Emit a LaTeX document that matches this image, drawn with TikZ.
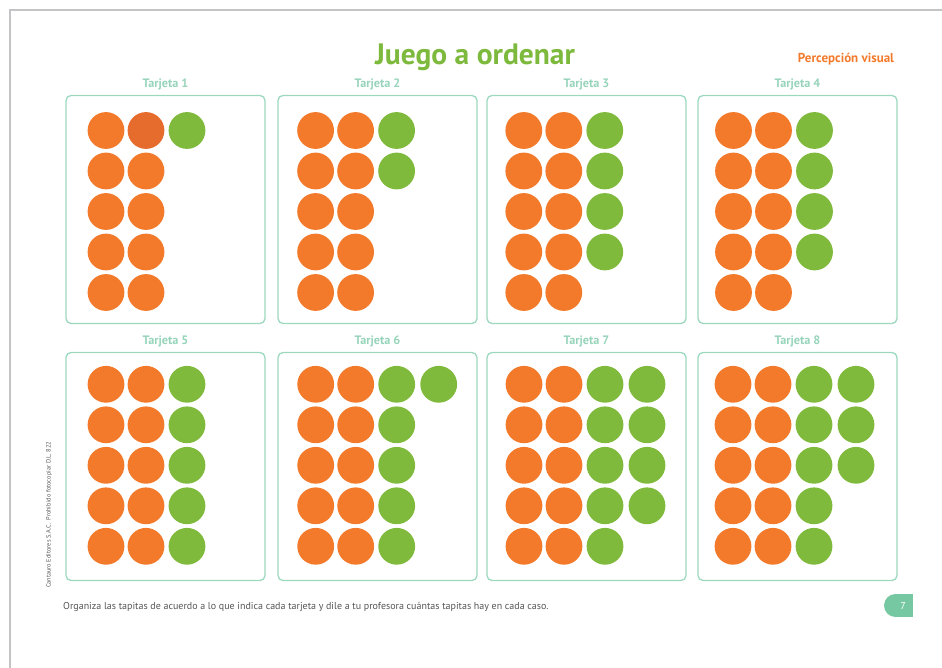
\documentclass[tikz,border=0pt]{standalone}
\usepackage{fontspec}
\setmainfont{PT Sans}
\definecolor{orangec}{RGB}{243,122,43}
\definecolor{darkorangec}{RGB}{230,108,45}
\definecolor{greenc}{RGB}{128,186,60}
\definecolor{titlec}{RGB}{124,185,60}
\definecolor{cardc}{RGB}{156,216,190}
\definecolor{labelc}{RGB}{150,212,186}
\definecolor{badgec}{RGB}{118,200,163}
\definecolor{framec}{RGB}{196,196,198}
\definecolor{textc}{RGB}{85,85,85}
\tikzset{
  card/.style={draw=cardc, line width=1.3pt, rounded corners=5pt, minimum width=199pt, minimum height=228pt, inner sep=0pt},
  dot/.style={circle, minimum size=36.8pt, inner sep=0pt, draw=none},
  cardlabel/.style={text=labelc, font=\fontsize{12.2}{14}\selectfont\bfseries, inner sep=0pt},
}
\begin{document}
\begin{tikzpicture}[x=1pt,y=-1pt]
\useasboundingbox (0,0) rectangle (942,668);
% page frame
\draw[framec, line width=2.4pt] (10,668) -- (10,10) -- (942,10);
% title
\node[text=titlec, font=\fontsize{29.5}{34}\selectfont\bfseries, inner sep=0pt] (title) at (475,57.5) {Juego a ordenar};
\node[text=orangec, font=\fontsize{13}{15}\selectfont\bfseries, inner sep=0pt] (topic) at (846,59) {Percepción visual};
% cards
\foreach \k/\lx/\ty/\fx/\fy/\ga/\gb/\gc/\gd/\ge in {
  1/66/95/106/130.5/1/0/0/0/0,
  2/278/95/315.6/130.5/1/1/0/0/0,
  3/487/95/523.8/130.5/1/1/1/1/0,
  4/698/95/733.5/130.5/1/1/1/1/0,
  5/66/352/106/384.3/1/1/1/1/1,
  6/278/352/315.7/384.3/2/1/1/1/1,
  7/487/352/524/384.3/2/2/2/2/1,
  8/698/352/733/384.3/2/2/2/1/1}{
  \node[card] (card\k) at (\lx+99.5,\ty+114.5) {};
  \node[cardlabel] (lab\k) at (\lx+99.5,\ty-10.5) {Tarjeta \k};
  \foreach \r/\g in {1/\ga,2/\gb,3/\gc,4/\gd,5/\ge}{
    \def\bc{orangec}
    \ifnum\k=1 \ifnum\r=1 \def\bc{darkorangec}\fi\fi
    \node[dot, fill=orangec] (t\k-\r-a) at (\fx,\fy+40.5*\r-40.5) {};
    \node[dot, fill=\bc] (t\k-\r-b) at (\fx+40,\fy+40.5*\r-40.5) {};
    \ifnum\g>0 \node[dot, fill=greenc] (t\k-\r-c) at (\fx+81,\fy+40.5*\r-40.5) {};\fi
    \ifnum\g>1 \node[dot, fill=greenc] (t\k-\r-d) at (\fx+123,\fy+40.5*\r-40.5) {};\fi
  }
}
% side note
\node[text=textc, font=\fontsize{6.3}{7}\selectfont, rotate=90, inner sep=0pt] (side) at (49,515) {Cantauro Editores S.A.C.\ \ Prohibido fotocopiar D.L. 822};
% instruction
\node[text=textc, font=\fontsize{10}{12}\selectfont, anchor=west, inner sep=0pt] (instr) at (63,607) {Organiza las tapitas de acuerdo a lo que indica cada tarjeta y dile a tu profesora cuántas tapitas hay en cada caso.};
% page number badge
\fill[badgec] (895.5,605.5) circle[radius=11.5];
\fill[badgec] (895.5,594) rectangle (913,617);
\node[text=white, font=\fontsize{10}{12}\selectfont, inner sep=0pt] (pnum) at (903,605.5) {7};
\end{tikzpicture}
\end{document}
